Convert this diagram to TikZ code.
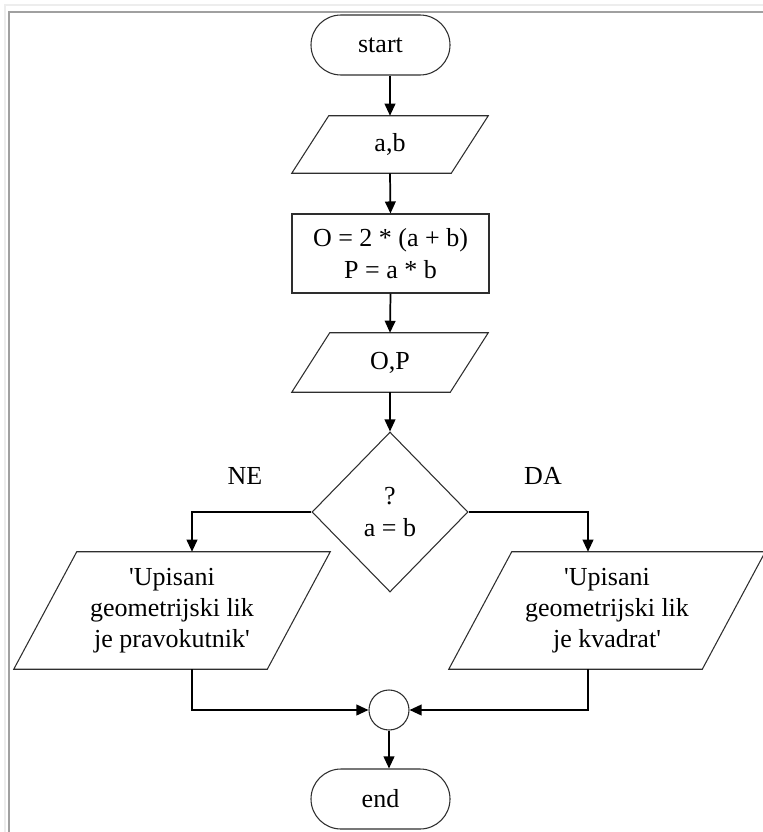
\documentclass[tikz,border=0pt]{standalone}
\usepackage{fontspec}
\setmainfont{Liberation Serif}
\usetikzlibrary{shapes.geometric,shapes.misc,arrows.meta,calc}

\definecolor{outline}{HTML}{2E2E2E}
\definecolor{framelight}{HTML}{EDEDED}
\definecolor{framedark}{HTML}{A0A0A0}

% parallelogram drawn round an invisible box node: #1 node name, #2 half slant
\newcommand\ioshape[2]{%
  \draw[shapeline] ($(#1.north west)+(#2,0)$) -- ($(#1.north east)+(#2,0)$)
    -- ($(#1.south east)+(-#2,0)$) -- ($(#1.south west)+(-#2,0)$) -- cycle;}
% straight single quote
\newcommand\sq{\textquotesingle}

\begin{document}
\begin{tikzpicture}[x=0.75pt,y=-0.75pt,
  every node/.style={font=\fontsize{19.5}{23.5}\selectfont, inner sep=0pt, text=black},
  shapeline/.style={draw=outline, line width=0.8pt},
  terminal/.style={rounded rectangle, shapeline, minimum width=104.25pt, minimum height=45pt},
  iobox/.style={rectangle, align=center},
  procbox/.style={rectangle, shapeline, align=center},
  decision/.style={diamond, shapeline, align=center},
  joint/.style={circle, shapeline, minimum size=30pt},
  flow/.style={draw=black, line width=1.3pt, -{Triangle[length=9pt,width=8pt]}},
  branch/.style={font=\fontsize{19.5}{23.5}\selectfont}]

% page and frame
\useasboundingbox (0,0) rectangle (763,832);
\draw[framelight, line width=1.5pt] (4.5,832) -- (4.5,5) -- (763,5);
\draw[framedark, line width=1.5pt] (9,832) -- (9,11.5) -- (763,11.5);

% nodes
\node[terminal] (start) at (380.5,45) {start};
\node[iobox, minimum width=119.25pt, minimum height=42.75pt] (ab) at (390,144.5) {a,b};
\node[procbox, minimum width=147.75pt, minimum height=59.25pt] (calc) at (390.5,253.5)
  {O = 2 * (a + b)\\P = a * b};
\node[iobox, minimum width=118.5pt, minimum height=44.25pt] (op) at (390,362.5) {O,P};
\node[decision, minimum width=117pt, minimum height=120pt] (dec) at (390,512) {?\\a = b};
\node[branch] (ne) at (245,476) {NE};
\node[branch] (da) at (543,476) {DA};
\node[iobox, minimum width=189.75pt, minimum height=87.75pt] (lp) at (172,610.5)
  {\sq Upisani\\geometrijski lik\\je pravokutnik\sq};
\node[iobox, minimum width=189.75pt, minimum height=87.75pt] (rp) at (607,610.5)
  {\sq Upisani\\geometrijski lik\\je kvadrat\sq};
\node[joint] (join) at (389,710) {};
\node[terminal] (end) at (380.5,799) {end};

% slanted input/output outlines
\ioshape{ab}{18.5}
\ioshape{op}{19}
\ioshape{lp}{31.5}
\ioshape{rp}{31.5}

% connection points on the output boxes
\coordinate (lpin) at ($(lp.north)+(20,0)$);
\coordinate (lpout) at ($(lp.south)+(20,0)$);
\coordinate (rpin) at ($(rp.north)+(-19,0)$);
\coordinate (rpout) at ($(rp.south)+(-19,0)$);

% connectors
\draw[flow] (ab.north |- start.south) -- (ab.north);
\draw[flow] (ab.south) -- (calc.north);
\draw[flow] (calc.south) -- (op.north);
\draw[flow] (op.south) -- (dec.north);
\draw[flow] (dec.west) -| (lpin);
\draw[flow] (dec.east) -| (rpin);
\draw[flow] (lpout) |- (join.west);
\draw[flow] (rpout) |- (join.east);
\draw[flow] (join.south) -- (join.south |- end.north);
\end{tikzpicture}
\end{document}
